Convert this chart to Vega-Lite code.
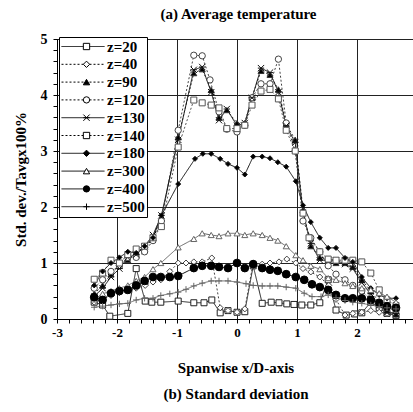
{
 "$schema": "https://vega.github.io/schema/vega-lite/v6.json",
 "width": 357, "height": 280,
 "autosize": {"type": "none"},
 "padding": {"left": 57, "top": 39, "right": 0, "bottom": 93},
 "background": "white",
 "title": {"text": "(a) Average temperature", "font": "Liberation Serif", "fontSize": 15, "fontWeight": "bold", "color": "black", "offset": 10, "dx": 3},
 "config": {"view": {"stroke": "black", "strokeWidth": 1}},
 "data": {"values": [
  {"z":20,"x":-2.38,"y":0.3},{"z":20,"x":-2.24,"y":0.25},{"z":20,"x":-2.12,"y":0.05},{"z":20,"x":-1.82,"y":0.1},{"z":20,"x":-1.68,"y":0.9},{"z":20,"x":-1.53,"y":0.32},{"z":20,"x":-1.42,"y":0.3},{"z":20,"x":-1.27,"y":0.3},{"z":20,"x":-0.98,"y":0.32},{"z":20,"x":-0.72,"y":0.29},{"z":20,"x":-0.55,"y":0.29},{"z":20,"x":-0.42,"y":0.34},{"z":20,"x":-0.28,"y":0.11},{"z":20,"x":-0.15,"y":0.15},{"z":20,"x":0,"y":0.12},{"z":20,"x":0.13,"y":0.13},{"z":20,"x":0.27,"y":0.95},{"z":20,"x":0.42,"y":0.28},{"z":20,"x":0.57,"y":0.3},{"z":20,"x":0.7,"y":0.29},{"z":20,"x":0.83,"y":0.27},{"z":20,"x":0.95,"y":0.26},{"z":20,"x":1.08,"y":0.25},{"z":20,"x":1.23,"y":0.25},{"z":20,"x":1.38,"y":0.29},{"z":20,"x":1.52,"y":0.7},{"z":20,"x":1.65,"y":0.16},{"z":20,"x":1.82,"y":0.07},{"z":20,"x":1.96,"y":0.09},{"z":20,"x":2.08,"y":0.11},{"z":20,"x":2.23,"y":0.3},{"z":20,"x":2.37,"y":0.2},{"z":20,"x":2.5,"y":0.1},{"z":20,"x":2.65,"y":0.06},
  {"z":40,"x":-2.38,"y":0.3},{"z":40,"x":-2.24,"y":0.35},{"z":40,"x":-2.1,"y":0.42},{"z":40,"x":-1.96,"y":0.47},{"z":40,"x":-1.82,"y":0.52},{"z":40,"x":-1.68,"y":0.55},{"z":40,"x":-1.53,"y":0.6},{"z":40,"x":-1.4,"y":0.66},{"z":40,"x":-1.27,"y":0.7},{"z":40,"x":-1.12,"y":0.85},{"z":40,"x":-0.98,"y":1.0},{"z":40,"x":-0.85,"y":1.0},{"z":40,"x":-0.72,"y":1.02},{"z":40,"x":-0.58,"y":1.02},{"z":40,"x":-0.42,"y":1.09},{"z":40,"x":-0.28,"y":0.2},{"z":40,"x":-0.15,"y":0.15},{"z":40,"x":0,"y":0.12},{"z":40,"x":0.13,"y":0.18},{"z":40,"x":0.27,"y":1.0},{"z":40,"x":0.42,"y":0.98},{"z":40,"x":0.55,"y":1.0},{"z":40,"x":0.7,"y":1.02},{"z":40,"x":0.83,"y":1.07},{"z":40,"x":0.98,"y":1.0},{"z":40,"x":1.1,"y":0.9},{"z":40,"x":1.23,"y":0.84},{"z":40,"x":1.38,"y":0.75},{"z":40,"x":1.53,"y":0.6},{"z":40,"x":1.65,"y":0.35},{"z":40,"x":1.8,"y":0.07},{"z":40,"x":1.93,"y":0.1},{"z":40,"x":2.08,"y":0.12},{"z":40,"x":2.23,"y":0.15},{"z":40,"x":2.37,"y":0.12},{"z":40,"x":2.5,"y":0.1},{"z":40,"x":2.65,"y":0.08},
  {"z":90,"x":-2.38,"y":0.45},{"z":90,"x":-2.24,"y":0.6},{"z":90,"x":-2.1,"y":0.8},{"z":90,"x":-1.96,"y":0.95},{"z":90,"x":-1.82,"y":1.05},{"z":90,"x":-1.68,"y":1.2},{"z":90,"x":-1.54,"y":1.25},{"z":90,"x":-1.4,"y":1.45},{"z":90,"x":-1.26,"y":1.8},{"z":90,"x":-0.98,"y":3.25},{"z":90,"x":-0.72,"y":4.39},{"z":90,"x":-0.58,"y":4.46},{"z":90,"x":-0.43,"y":4.09},{"z":90,"x":-0.3,"y":3.6},{"z":90,"x":-0.17,"y":3.73},{"z":90,"x":0,"y":3.5},{"z":90,"x":0.13,"y":3.5},{"z":90,"x":0.25,"y":3.96},{"z":90,"x":0.4,"y":4.43},{"z":90,"x":0.55,"y":4.36},{"z":90,"x":0.69,"y":4.1},{"z":90,"x":0.82,"y":3.48},{"z":90,"x":0.97,"y":3.2},{"z":90,"x":1.1,"y":1.95},{"z":90,"x":1.23,"y":1.3},{"z":90,"x":1.38,"y":1.1},{"z":90,"x":1.52,"y":1.05},{"z":90,"x":1.65,"y":1.0},{"z":90,"x":1.8,"y":1.0},{"z":90,"x":1.93,"y":0.93},{"z":90,"x":2.08,"y":0.7},{"z":90,"x":2.23,"y":0.5},{"z":90,"x":2.37,"y":0.3},{"z":90,"x":2.5,"y":0.15},{"z":90,"x":2.65,"y":0.08},
  {"z":120,"x":-2.38,"y":0.55},{"z":120,"x":-2.24,"y":0.7},{"z":120,"x":-2.1,"y":0.85},{"z":120,"x":-1.96,"y":0.95},{"z":120,"x":-1.82,"y":1.1},{"z":120,"x":-1.68,"y":1.1},{"z":120,"x":-1.54,"y":1.2},{"z":120,"x":-1.4,"y":1.4},{"z":120,"x":-1.26,"y":1.75},{"z":120,"x":-0.98,"y":3.37},{"z":120,"x":-0.72,"y":4.71},{"z":120,"x":-0.58,"y":4.7},{"z":120,"x":-0.45,"y":4.27},{"z":120,"x":-0.3,"y":3.7},{"z":120,"x":-0.17,"y":3.39},{"z":120,"x":0,"y":3.34},{"z":120,"x":0.13,"y":3.46},{"z":120,"x":0.25,"y":3.95},{"z":120,"x":0.4,"y":4.2},{"z":120,"x":0.55,"y":4.2},{"z":120,"x":0.69,"y":4.64},{"z":120,"x":0.82,"y":3.5},{"z":120,"x":0.97,"y":3.0},{"z":120,"x":1.1,"y":1.75},{"z":120,"x":1.23,"y":1.45},{"z":120,"x":1.38,"y":1.2},{"z":120,"x":1.52,"y":0.95},{"z":120,"x":1.65,"y":0.8},{"z":120,"x":1.8,"y":0.7},{"z":120,"x":1.93,"y":0.6},{"z":120,"x":2.08,"y":0.5},{"z":120,"x":2.23,"y":0.35},{"z":120,"x":2.37,"y":0.25},{"z":120,"x":2.5,"y":0.2},{"z":120,"x":2.65,"y":0.15},
  {"z":130,"x":-2.38,"y":0.4},{"z":130,"x":-2.24,"y":0.55},{"z":130,"x":-2.1,"y":0.75},{"z":130,"x":-1.96,"y":0.9},{"z":130,"x":-1.82,"y":1.1},{"z":130,"x":-1.68,"y":1.15},{"z":130,"x":-1.54,"y":1.3},{"z":130,"x":-1.4,"y":1.5},{"z":130,"x":-1.26,"y":1.85},{"z":130,"x":-0.98,"y":3.2},{"z":130,"x":-0.72,"y":4.45},{"z":130,"x":-0.58,"y":4.5},{"z":130,"x":-0.43,"y":4.05},{"z":130,"x":-0.3,"y":3.55},{"z":130,"x":-0.17,"y":3.75},{"z":130,"x":0,"y":3.45},{"z":130,"x":0.13,"y":3.5},{"z":130,"x":0.25,"y":3.95},{"z":130,"x":0.4,"y":4.48},{"z":130,"x":0.55,"y":4.4},{"z":130,"x":0.69,"y":4.05},{"z":130,"x":0.82,"y":3.45},{"z":130,"x":0.97,"y":3.15},{"z":130,"x":1.1,"y":1.9},{"z":130,"x":1.23,"y":1.35},{"z":130,"x":1.38,"y":1.05},{"z":130,"x":1.52,"y":1.05},{"z":130,"x":1.65,"y":1.05},{"z":130,"x":1.8,"y":0.98},{"z":130,"x":1.93,"y":0.9},{"z":130,"x":2.08,"y":0.65},{"z":130,"x":2.23,"y":0.45},{"z":130,"x":2.37,"y":0.25},{"z":130,"x":2.5,"y":0.12},{"z":130,"x":2.65,"y":0.1},
  {"z":140,"x":-2.38,"y":0.71},{"z":140,"x":-2.24,"y":0.82},{"z":140,"x":-2.1,"y":1.05},{"z":140,"x":-1.96,"y":1.0},{"z":140,"x":-1.82,"y":1.15},{"z":140,"x":-1.68,"y":1.25},{"z":140,"x":-1.54,"y":1.3},{"z":140,"x":-1.4,"y":1.45},{"z":140,"x":-1.26,"y":1.65},{"z":140,"x":-0.98,"y":3.07},{"z":140,"x":-0.72,"y":3.91},{"z":140,"x":-0.58,"y":3.86},{"z":140,"x":-0.43,"y":3.82},{"z":140,"x":-0.3,"y":3.77},{"z":140,"x":-0.17,"y":3.4},{"z":140,"x":0,"y":3.4},{"z":140,"x":0.13,"y":3.46},{"z":140,"x":0.25,"y":3.82},{"z":140,"x":0.4,"y":4.07},{"z":140,"x":0.55,"y":4.1},{"z":140,"x":0.69,"y":3.93},{"z":140,"x":0.82,"y":3.37},{"z":140,"x":0.97,"y":3.0},{"z":140,"x":1.1,"y":1.89},{"z":140,"x":1.2,"y":1.45},{"z":140,"x":1.38,"y":1.2},{"z":140,"x":1.52,"y":1.07},{"z":140,"x":1.65,"y":1.05},{"z":140,"x":1.8,"y":1.05},{"z":140,"x":1.93,"y":1.05},{"z":140,"x":2.08,"y":1.02},{"z":140,"x":2.23,"y":0.82},{"z":140,"x":2.37,"y":0.52},{"z":140,"x":2.5,"y":0.34},{"z":140,"x":2.65,"y":0.24},
  {"z":180,"x":-2.38,"y":0.6},{"z":180,"x":-2.24,"y":0.85},{"z":180,"x":-2.1,"y":1.0},{"z":180,"x":-1.96,"y":1.1},{"z":180,"x":-1.82,"y":1.2},{"z":180,"x":-1.68,"y":1.18},{"z":180,"x":-1.54,"y":1.3},{"z":180,"x":-1.4,"y":1.45},{"z":180,"x":-1.26,"y":1.85},{"z":180,"x":-0.98,"y":2.41},{"z":180,"x":-0.7,"y":2.86},{"z":180,"x":-0.57,"y":2.95},{"z":180,"x":-0.43,"y":2.95},{"z":180,"x":-0.28,"y":2.86},{"z":180,"x":-0.15,"y":2.77},{"z":180,"x":0,"y":2.7},{"z":180,"x":0.13,"y":2.58},{"z":180,"x":0.27,"y":2.9},{"z":180,"x":0.42,"y":2.9},{"z":180,"x":0.55,"y":2.87},{"z":180,"x":0.68,"y":2.8},{"z":180,"x":0.82,"y":2.72},{"z":180,"x":0.98,"y":2.46},{"z":180,"x":1.1,"y":2.03},{"z":180,"x":1.23,"y":1.73},{"z":180,"x":1.38,"y":1.45},{"z":180,"x":1.52,"y":1.27},{"z":180,"x":1.65,"y":1.27},{"z":180,"x":1.8,"y":1.09},{"z":180,"x":1.93,"y":1.02},{"z":180,"x":2.08,"y":0.75},{"z":180,"x":2.23,"y":0.55},{"z":180,"x":2.37,"y":0.43},{"z":180,"x":2.5,"y":0.37},{"z":180,"x":2.65,"y":0.37},
  {"z":300,"x":-2.38,"y":0.35},{"z":300,"x":-2.24,"y":0.45},{"z":300,"x":-2.1,"y":0.5},{"z":300,"x":-1.96,"y":0.55},{"z":300,"x":-1.82,"y":0.6},{"z":300,"x":-1.68,"y":0.68},{"z":300,"x":-1.54,"y":0.75},{"z":300,"x":-1.4,"y":0.89},{"z":300,"x":-1.27,"y":1.0},{"z":300,"x":-0.98,"y":1.28},{"z":300,"x":-0.72,"y":1.43},{"z":300,"x":-0.58,"y":1.53},{"z":300,"x":-0.43,"y":1.5},{"z":300,"x":-0.3,"y":1.48},{"z":300,"x":-0.15,"y":1.53},{"z":300,"x":0,"y":1.53},{"z":300,"x":0.13,"y":1.5},{"z":300,"x":0.27,"y":1.53},{"z":300,"x":0.42,"y":1.5},{"z":300,"x":0.55,"y":1.45},{"z":300,"x":0.68,"y":1.4},{"z":300,"x":0.82,"y":1.3},{"z":300,"x":0.98,"y":1.14},{"z":300,"x":1.1,"y":1.05},{"z":300,"x":1.23,"y":0.95},{"z":300,"x":1.38,"y":0.89},{"z":300,"x":1.52,"y":0.73},{"z":300,"x":1.65,"y":0.7},{"z":300,"x":1.8,"y":0.64},{"z":300,"x":1.93,"y":0.59},{"z":300,"x":2.08,"y":0.55},{"z":300,"x":2.23,"y":0.52},{"z":300,"x":2.37,"y":0.46},{"z":300,"x":2.5,"y":0.4},{"z":300,"x":2.65,"y":0.3},
  {"z":400,"x":-2.38,"y":0.39},{"z":400,"x":-2.24,"y":0.34},{"z":400,"x":-2.1,"y":0.46},{"z":400,"x":-1.96,"y":0.5},{"z":400,"x":-1.82,"y":0.52},{"z":400,"x":-1.68,"y":0.6},{"z":400,"x":-1.54,"y":0.68},{"z":400,"x":-1.4,"y":0.75},{"z":400,"x":-1.27,"y":0.75},{"z":400,"x":-1.12,"y":0.75},{"z":400,"x":-0.98,"y":0.77},{"z":400,"x":-0.72,"y":0.91},{"z":400,"x":-0.58,"y":0.95},{"z":400,"x":-0.43,"y":0.95},{"z":400,"x":-0.3,"y":0.93},{"z":400,"x":-0.15,"y":0.91},{"z":400,"x":0,"y":1.0},{"z":400,"x":0.13,"y":0.91},{"z":400,"x":0.27,"y":0.98},{"z":400,"x":0.42,"y":0.91},{"z":400,"x":0.55,"y":0.88},{"z":400,"x":0.68,"y":0.86},{"z":400,"x":0.82,"y":0.8},{"z":400,"x":0.98,"y":0.75},{"z":400,"x":1.12,"y":0.7},{"z":400,"x":1.25,"y":0.62},{"z":400,"x":1.38,"y":0.57},{"z":400,"x":1.52,"y":0.52},{"z":400,"x":1.65,"y":0.43},{"z":400,"x":1.8,"y":0.37},{"z":400,"x":1.93,"y":0.37},{"z":400,"x":2.08,"y":0.37},{"z":400,"x":2.23,"y":0.34},{"z":400,"x":2.37,"y":0.29},{"z":400,"x":2.5,"y":0.23},{"z":400,"x":2.65,"y":0.2},
  {"z":500,"x":-2.38,"y":0.21},{"z":500,"x":-2.24,"y":0.23},{"z":500,"x":-2.1,"y":0.25},{"z":500,"x":-1.96,"y":0.27},{"z":500,"x":-1.82,"y":0.28},{"z":500,"x":-1.68,"y":0.34},{"z":500,"x":-1.54,"y":0.37},{"z":500,"x":-1.4,"y":0.37},{"z":500,"x":-1.27,"y":0.42},{"z":500,"x":-1.12,"y":0.45},{"z":500,"x":-0.98,"y":0.48},{"z":500,"x":-0.85,"y":0.53},{"z":500,"x":-0.72,"y":0.59},{"z":500,"x":-0.58,"y":0.64},{"z":500,"x":-0.43,"y":0.68},{"z":500,"x":-0.3,"y":0.68},{"z":500,"x":-0.15,"y":0.68},{"z":500,"x":0,"y":0.66},{"z":500,"x":0.15,"y":0.63},{"z":500,"x":0.27,"y":0.6},{"z":500,"x":0.42,"y":0.59},{"z":500,"x":0.55,"y":0.59},{"z":500,"x":0.68,"y":0.59},{"z":500,"x":0.82,"y":0.57},{"z":500,"x":0.98,"y":0.55},{"z":500,"x":1.12,"y":0.46},{"z":500,"x":1.25,"y":0.4},{"z":500,"x":1.4,"y":0.4},{"z":500,"x":1.52,"y":0.43},{"z":500,"x":1.65,"y":0.38},{"z":500,"x":1.8,"y":0.33},{"z":500,"x":1.93,"y":0.3},{"z":500,"x":2.08,"y":0.28},{"z":500,"x":2.23,"y":0.25},{"z":500,"x":2.37,"y":0.22},{"z":500,"x":2.5,"y":0.2},{"z":500,"x":2.65,"y":0.18}
 ]},
 "encoding": {
  "x": {"field": "x", "type": "quantitative",
   "scale": {"domain": [-3, 2.95], "nice": false, "zero": false},
   "axis": {
    "values": [-3,-2.8,-2.6,-2.4,-2.2,-2,-1.8,-1.6,-1.4,-1.2,-1,-0.8,-0.6,-0.4,-0.2,0,0.2,0.4,0.6,0.8,1,1.2,1.4,1.6,1.8,2,2.2,2.4,2.6,2.8],
    "labelExpr": "abs(datum.value - round(datum.value)) < 0.001 ? '' + round(datum.value) : ''",
    "labelOverlap": false, "labelFlush": false,
    "grid": true, "gridColor": "#222", "gridWidth": 1,
    "gridOpacity": {"condition": {"test": "abs(datum.value - round(datum.value)) < 0.001", "value": 1}, "value": 0},
    "tickSize": 4, "tickColor": "black", "domainColor": "black",
    "labelFont": "Liberation Serif", "labelFontWeight": "bold", "labelFontSize": 13, "labelColor": "black", "labelPadding": 3,
    "title": ["Spanwise x/D-axis", "(b) Standard deviation"],
    "titleFont": "Liberation Serif", "titleFontSize": 15, "titleFontWeight": "bold", "titleColor": "black", "titlePadding": 21, "titleLineHeight": 26
   }},
  "y": {"field": "y", "type": "quantitative",
   "scale": {"domain": [0, 5], "nice": false},
   "axis": {
    "values": [0,0.2,0.4,0.6,0.8,1,1.2,1.4,1.6,1.8,2,2.2,2.4,2.6,2.8,3,3.2,3.4,3.6,3.8,4,4.2,4.4,4.6,4.8,5],
    "labelExpr": "abs(datum.value - round(datum.value)) < 0.001 ? '' + round(datum.value) : ''",
    "labelOverlap": false, "labelFlush": false,
    "grid": true, "gridColor": "#222", "gridWidth": 1,
    "gridOpacity": {"condition": {"test": "abs(datum.value - round(datum.value)) < 0.001", "value": 1}, "value": 0},
    "tickSize": 4, "tickColor": "black", "domainColor": "black",
    "labelFont": "Liberation Serif", "labelFontWeight": "bold", "labelFontSize": 14, "labelColor": "black", "labelPadding": 6,
    "title": "Std. dev./Tavgx100%",
    "titleFont": "Liberation Serif", "titleFontSize": 15, "titleFontWeight": "bold", "titleColor": "black", "titlePadding": 12
   }}
 },
 "layer": [
  {"mark": {"type": "line", "strokeWidth": 1},
   "encoding": {
    "strokeDash": {"field": "z", "type": "nominal",
     "scale": {"domain": [20,40,90,120,130,140,180,300,400,500], "range": [[1,0],[2,2],[2,2],[2,2],[1,0],[2,2],[1,0],[1,0],[1,0],[1,0]]},
     "legend": {"orient": "none", "legendX": 2, "legendY": -2, "direction": "vertical", "title": null,
      "symbolType": "stroke", "symbolSize": 1849, "symbolStrokeColor": "black", "symbolStrokeWidth": 1, "symbolFillColor": "transparent",
      "clipHeight": 15, "rowPadding": 1.8, "padding": 2, "labelOffset": 2,
      "labelFont": "Liberation Serif", "labelFontSize": 15, "labelFontWeight": "bold", "labelColor": "black",
      "labelExpr": "'z=' + datum.label", "strokeColor": "black", "fillColor": "white", "cornerRadius": 0,
      "encode": {"symbols": {"update": {"stroke": {"value": "black"}, "strokeWidth": {"value": 1}, "opacity": {"value": 1}}}}}},
    "stroke": {"field": "z", "type": "nominal",
     "scale": {"domain": [500,400,300,180,140,130,120,90,40,20], "range": ["#666","#000","#666","#111","#555","#111","#444","#333","#444","#222"]},
     "legend": null}
   }},
  {"mark": {"type": "point", "filled": false, "opacity": 1, "strokeWidth": 1},
   "encoding": {
    "shape": {"field": "z", "type": "nominal",
     "scale": {"range": ["square","diamond","triangle-up","circle","M-1,-1L1,1M-1,1L1,-1M-1,0L1,0","square","diamond","triangle-up","circle","M-1,0L1,0M0,-1L0,1"]},
     "legend": {"orient": "none", "legendX": 20, "legendY": -2, "direction": "vertical", "title": null,
      "clipHeight": 15, "rowPadding": 1.8, "padding": 2, "symbolSize": 40,
      "symbolStrokeColor": "black", "symbolStrokeWidth": 1, "symbolOpacity": 1,
      "labelExpr": "''", "labelFont": "Liberation Serif", "labelFontSize": 15, "labelFontWeight": "bold",
      "encode": {"symbols": {"update": {"stroke": {"value": "black"}, "strokeWidth": {"value": 1}, "opacity": {"value": 1}}}}}},
    "fill": {"field": "z", "type": "nominal",
     "scale": {"range": ["white","white","black","white","transparent","white","black","white","black","transparent"]},
     "legend": {"orient": "none", "legendX": 20, "legendY": -2, "direction": "vertical", "title": null,
      "clipHeight": 15, "rowPadding": 1.8, "padding": 2, "symbolSize": 40,
      "symbolStrokeColor": "black", "symbolStrokeWidth": 1, "symbolOpacity": 1,
      "labelExpr": "''", "labelFont": "Liberation Serif", "labelFontSize": 15, "labelFontWeight": "bold",
      "encode": {"symbols": {"update": {"stroke": {"value": "black"}, "strokeWidth": {"value": 1}, "opacity": {"value": 1}}}}}},
    "stroke": {"field": "z", "type": "nominal", "legend": null},
    "size": {"field": "z", "type": "nominal",
     "scale": {"type": "ordinal", "domain": [500,400,300,180,140,130,120,90,40,20], "range": [40,60,36,25,36,40,40,36,36,36]},
     "legend": null}
   }}
 ]
}
